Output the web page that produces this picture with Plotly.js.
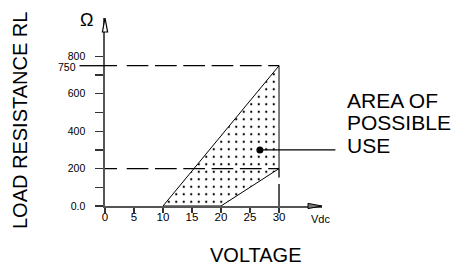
<!DOCTYPE html>
<html><head><meta charset="utf-8">
<script src="https://cdn.plot.ly/plotly-3.0.1.min.js"></script>
<style>body{margin:0;background:#fff}#c{width:452px;height:267px}</style>
</head><body><div id="c"></div>
<script>
// Region of possible use (voltage in Vdc, load resistance in ohms)
const areaVoltage = [10, 30, 30, 20, 10];
const areaResist  = [0, 750, 200, 0, 0];
const limitHigh = 750;
const limitLow = 200;
const maxVoltage = 30;
const labelPointX = [26.7];
const labelPointY = [300];
const xTicks = [0, 5, 10, 15, 20, 25, 30];
const yTicks = [0, 100, 200, 300, 400, 500, 600, 700, 800];
const yTickText = ['0.0', '', '200', '', '400', '', '600', '', '800'];
const areaLabel = ['AREA OF', 'POSSIBLE', 'USE'];

const F = 'Liberation Sans, Arial, Helvetica, sans-serif';
const dashPat = '12px,9.7px' + ',21.7px,6.6px'.repeat(8);

const traces = [{
  type: 'scatter', mode: 'lines', x: areaVoltage, y: areaResist,
  fill: 'toself', fillcolor: 'white',
  fillpattern: {shape: '.', size: 7.5, solidity: 0.07, fgcolor: '#000000', bgcolor: 'white', fgopacity: 1},
  line: {color: 'black', width: 1}, hoverinfo: 'skip', showlegend: false
}, {
  type: 'scatter', mode: 'markers', x: labelPointX, y: labelPointY,
  marker: {color: 'black', size: 7}, hoverinfo: 'skip', showlegend: false, cliponaxis: false
}];

const shapes = [
  {type: 'line', xref: 'x', yref: 'y', x0: 0, x1: maxVoltage, y0: limitHigh, y1: limitHigh, line: {color: 'black', width: 1.3, dash: dashPat}},
  {type: 'line', xref: 'x', yref: 'y', x0: 0, x1: maxVoltage, y0: limitLow, y1: limitLow, line: {color: 'black', width: 1.3, dash: dashPat}},
  {type: 'line', xref: 'x', yref: 'y', x0: maxVoltage, x1: maxVoltage, y0: 0, y1: limitLow, line: {color: 'black', width: 1.3, dash: '22px,6.5px'}},
  {type: 'line', xref: 'paper', yref: 'y', x0: -0.1175, x1: 0, y0: limitHigh, y1: limitHigh, line: {color: 'black', width: 1.3}},
  // axis arrowheads (paper coordinates)
  {type: 'path', xref: 'paper', yref: 'paper', path: 'M -0.012 0.9255 L 0 1.0 L 0.012 0.9255 Z',
   fillcolor: 'white', line: {color: 'black', width: 1.2}},
  {type: 'path', xref: 'paper', yref: 'paper', path: 'M 1.0 0 L 0.9355 0.0138 L 0.9355 -0.0138 Z',
   fillcolor: '#777', line: {color: 'black', width: 1}}
];

const annotations = [
  {xref: 'paper', yref: 'y', x: -0.1244, y: limitHigh, xanchor: 'right', yanchor: 'middle', yshift: -1, text: '750', showarrow: false, font: {family: F, size: 10.5, color: 'black'}},
  {xref: 'paper', yref: 'paper', x: -0.083, y: 0.99, xanchor: 'center', yanchor: 'middle', text: 'Ω', showarrow: false, font: {family: F, size: 18, color: 'black'}},
  {xref: 'paper', yref: 'paper', x: 0.9908, y: -0.069, xanchor: 'center', yanchor: 'middle', text: 'Vdc', showarrow: false, font: {family: F, size: 11, color: 'black'}},
  {xref: 'paper', yref: 'paper', x: -0.3917, y: 0.452, xanchor: 'center', yanchor: 'middle', textangle: -90, text: 'LOAD RESISTANCE RL', showarrow: false, font: {family: F, size: 20, color: 'black'}},
  {xref: 'paper', yref: 'paper', x: 0.4747, y: -0.258, xanchor: 'left', yanchor: 'middle', text: 'VOLTAGE', showarrow: false, font: {family: F, size: 20, color: 'black'}},
  {xref: 'paper', yref: 'paper', x: 1.106, y: 0.561, xanchor: 'left', yanchor: 'middle', text: areaLabel[0], showarrow: false, font: {family: F, size: 21, color: 'black'}},
  {xref: 'paper', yref: 'paper', x: 1.106, y: 0.444, xanchor: 'left', yanchor: 'middle', text: areaLabel[1], showarrow: false, font: {family: F, size: 21, color: 'black'}},
  {xref: 'paper', yref: 'paper', x: 1.106, y: 0.322, xanchor: 'left', yanchor: 'middle', text: areaLabel[2], showarrow: false, font: {family: F, size: 21, color: 'black'}},
  {xref: 'x', yref: 'y', x: labelPointX[0], y: labelPointY[0], axref: 'pixel', ayref: 'pixel', ax: 77, ay: 0,
   text: ' ', font: {size: 1}, showarrow: true, arrowhead: 0, arrowwidth: 1.2, arrowcolor: 'black', standoff: 0}
];

const layout = {
  width: 452, height: 267,
  margin: {l: 105, r: 130, t: 18, b: 61, pad: 0},
  paper_bgcolor: 'white', plot_bgcolor: 'white',
  font: {family: F, color: '#000000'},
  xaxis: {range: [0, 37.41], tickvals: xTicks, ticks: 'outside', ticklen: 5, tickcolor: '#333', tickwidth: 1.3,
          showline: true, linecolor: '#555', linewidth: 1.6, showgrid: false, zeroline: false,
          ticklabelstandoff: -5, tickfont: {family: F, size: 11.5, color: '#000000'}},
  yaxis: {range: [0, 1005], tickvals: yTicks, ticktext: yTickText, ticks: 'outside', ticklen: 8, tickcolor: '#333', tickwidth: 1.3,
          showline: true, linecolor: '#555', linewidth: 1.6, showgrid: false, zeroline: false,
          ticklabelstandoff: 8, tickfont: {family: F, size: 10.5, color: '#000000'}},
  shapes: shapes, annotations: annotations, showlegend: false
};

Plotly.newPlot('c', traces, layout, {displayModeBar: false, staticPlot: true});
</script></body></html>
